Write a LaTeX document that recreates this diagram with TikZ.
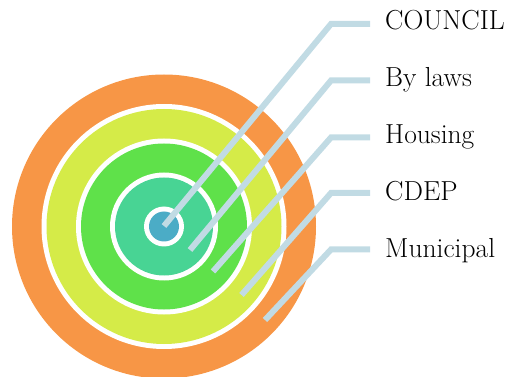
\documentclass[tikz,border=0pt]{standalone}
\usepackage{fontspec}
\definecolor{corange}{RGB}{247,150,70}
\definecolor{cyellow}{RGB}{213,235,72}
\definecolor{cgreen}{RGB}{95,225,74}
\definecolor{cteal}{RGB}{72,212,148}
\definecolor{cblue}{RGB}{75,172,198}
\definecolor{cline}{RGB}{193,219,228}
\begin{document}
\begin{tikzpicture}[x=1pt,y=-1pt,
  lbl/.style={anchor=base west,inner sep=0pt,font=\fontsize{27.5}{31}\selectfont},
  leader/.style={draw=cline,line width=6pt,line cap=butt,line join=miter}]
\useasboundingbox (0,0) rectangle (512,377);
\begin{scope}
\clip (0,0) rectangle (512,377);
\coordinate (ctr) at (164,226.5);
\fill[corange] (ctr) circle[radius=152pt];
\fill[white] (ctr) circle[radius=122.5pt];
\fill[cyellow] (ctr) circle[radius=117.5pt];
\fill[white] (ctr) circle[radius=88pt];
\fill[cgreen] (ctr) circle[radius=83pt];
\fill[white] (ctr) circle[radius=54pt];
\fill[cteal] (ctr) circle[radius=49pt];
\fill[white] (ctr) circle[radius=20pt];
\fill[cblue] (ctr) circle[radius=15pt];
\end{scope}
% labels
\node[lbl] (t1) at (385,30) {COUNCIL};
\node[lbl] (t2) at (385,87) {By laws};
\node[lbl] (t3) at (385,144) {Housing};
\node[lbl] (t4) at (385,201) {CDEP};
\node[lbl] (t5) at (385,258) {Municipal};
% leader coordinates
\coordinate (s1) at (164,226);
\coordinate (s2) at (190,250);
\coordinate (s3) at (213,271.5);
\coordinate (s4) at (241.5,295);
\coordinate (s5) at (265,320);
\coordinate (k1) at (331,24);
\coordinate (k2) at (331,80.5);
\coordinate (k3) at (331,137.5);
\coordinate (k4) at (331,193);
\coordinate (k5) at (331,249.5);
\draw[leader] (s1) -- (k1) -- ([xshift=-15pt]t1.west |- k1);
\draw[leader] (s2) -- (k2) -- ([xshift=-15pt]t2.west |- k2);
\draw[leader] (s3) -- (k3) -- ([xshift=-15pt]t3.west |- k3);
\draw[leader] (s4) -- (k4) -- ([xshift=-15pt]t4.west |- k4);
\draw[leader] (s5) -- (k5) -- ([xshift=-15pt]t5.west |- k5);
\end{tikzpicture}
\end{document}
